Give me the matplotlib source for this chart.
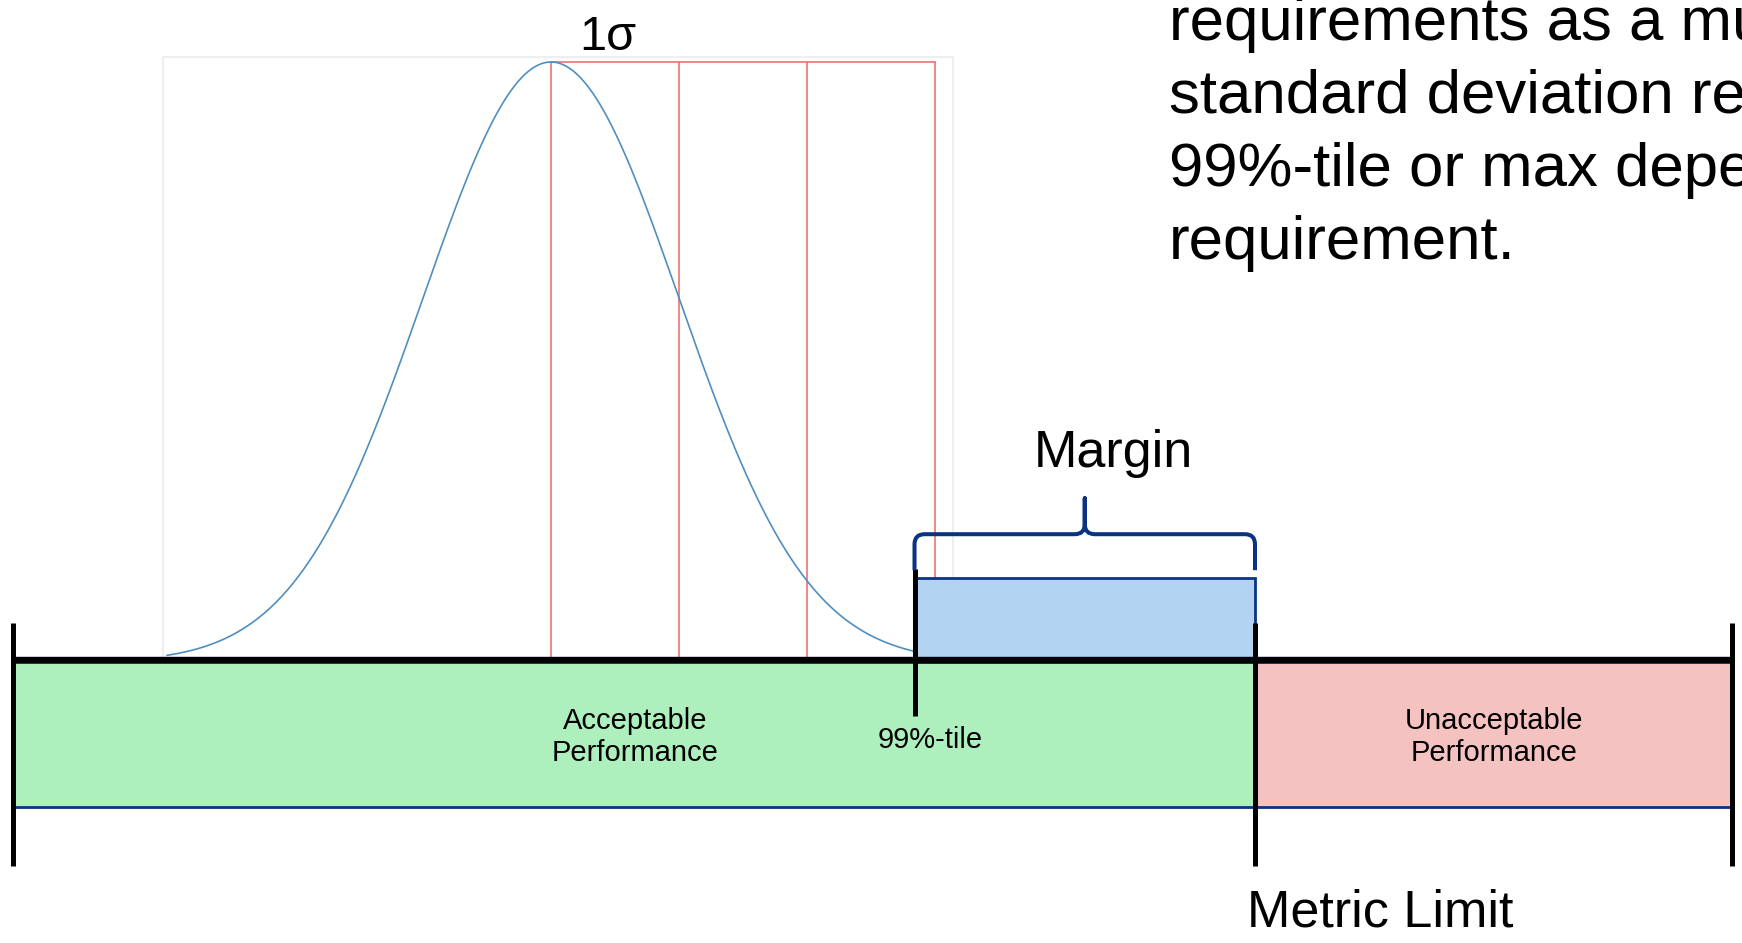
import numpy as np
import matplotlib
matplotlib.use("Agg")
import matplotlib.pyplot as plt
from matplotlib.patches import Rectangle, PathPatch
from matplotlib.path import Path

plt.rcParams['font.family'] = ['Liberation Sans', 'DejaVu Sans']

# --- values (x in units of sigma from the mean, y relative to the peak height) ---
scale_start = -4.2        # left end of the metric scale
percentile_99 = 2.84      # observed 99%-tile
metric_limit = 5.5        # requirement limit
scale_end = 9.23          # right end of the metric scale
sigma_marks = [0, 1, 2, 3]
curve_range = [-3.0, 2.84]
frame_range = [-3.03, 3.14]
band_depth = -0.242       # performance bands hang below the scale line
margin_height = 0.14
region_labels = ["Acceptable\nPerformance", "Unacceptable\nPerformance"]
note_lines = ["requirements as a multiple of the",
              "standard deviation relative to the",
              "99%-tile or max depending on the",
              "requirement."]

navy = '#0b3382'

fig = plt.figure(figsize=(17.42, 9.43), dpi=100)
ax = fig.add_axes([0, 0, 1, 1])
ax.set_xlim(-551 / 128, (1742 - 551) / 128)
ax.set_ylim((662 - 943) / 600, 662 / 600)
ax.axis('off')

# faint frame of the embedded distribution plot
ax.add_patch(Rectangle((frame_range[0], 0), frame_range[1] - frame_range[0], 1.008,
                       fill=False, ec='#efefef', lw=1.6, zorder=1))

# sigma grid box
ax.plot([sigma_marks[0], sigma_marks[-1]], [1, 1], color='#f07272', lw=1.2, zorder=2)
for s in sigma_marks:
    ax.plot([s, s], [0, 1], color='#f07272', lw=1.2, zorder=2)

# normal curve
z = np.linspace(curve_range[0], curve_range[1], 400)
ax.plot(z, np.exp(-z ** 2 / 2), color='#4f8fc0', lw=1.2, zorder=3)

# performance bands
ax.add_patch(Rectangle((scale_start, band_depth), metric_limit - scale_start, -band_depth,
                       fc='#adefbd', ec=navy, lw=2.0, zorder=4))
ax.add_patch(Rectangle((metric_limit, band_depth), scale_end - metric_limit, -band_depth,
                       fc='#f4c2c0', ec=navy, lw=2.0, zorder=4))

# margin block
ax.add_patch(Rectangle((percentile_99, 0), metric_limit - percentile_99, margin_height,
                       fc='#b1d2f0', ec=navy, lw=2.0, zorder=4))

# scale line and ticks
ax.plot([scale_start, scale_end], [0.004, 0.004], color='black', lw=4.6,
        solid_capstyle='butt', zorder=5)
for xt in [scale_start, metric_limit, scale_end]:
    ax.plot([xt, xt], [0.065, -0.34], color='black', lw=3.6, solid_capstyle='butt', zorder=6)
ax.plot([percentile_99, percentile_99], [0.155, -0.09], color='black', lw=3.6,
        solid_capstyle='butt', zorder=6)

# curly brace over the margin
rx, ry = 10 / 128, 10 / 600
y_end, y_h, y_tip = 0.153, 0.213, 0.273
xm = 4.17
x0, x1 = percentile_99, metric_limit
verts = [(x0, y_end), (x0, y_h - ry), (x0, y_h), (x0 + rx, y_h),
         (xm - rx, y_h), (xm, y_h), (xm, y_h + ry), (xm, y_tip),
         (xm, y_h + ry), (xm, y_h), (xm + rx, y_h),
         (x1 - rx, y_h), (x1, y_h), (x1, y_h - ry), (x1, y_end)]
codes = [Path.MOVETO, Path.LINETO, Path.CURVE3, Path.CURVE3,
         Path.LINETO, Path.CURVE3, Path.CURVE3, Path.LINETO,
         Path.LINETO, Path.CURVE3, Path.CURVE3,
         Path.LINETO, Path.CURVE3, Path.CURVE3, Path.LINETO]
ax.add_patch(PathPatch(Path(verts, codes), fill=False, ec=navy, lw=2.9,
                       capstyle='butt', joinstyle='round', zorder=6))

# labels
ax.text(0.656, -0.125, region_labels[0], ha='center', va='center', fontsize=21, zorder=7)
ax.text(7.37, -0.125, region_labels[1], ha='center', va='center', fontsize=21, zorder=7)
ax.text(2.96, -0.13, "99%-tile", ha='center', va='center', fontsize=21, zorder=7)
ax.text(4.39, 0.348, "Margin", ha='center', va='center', fontsize=37.5, zorder=7)
ax.text(0.44, 1.04, "1σ", ha='center', va='center', fontsize=35, zorder=7)
ax.text(5.44, -0.418, "Metric Limit", ha='left', va='center', fontsize=37.5, zorder=7)

for i, line in enumerate(note_lines):
    ax.text(4.83, 1.037 - i * 0.1217, line, ha='left', va='baseline', fontsize=44.5, zorder=7)

fig.savefig('out.png', dpi=100)
